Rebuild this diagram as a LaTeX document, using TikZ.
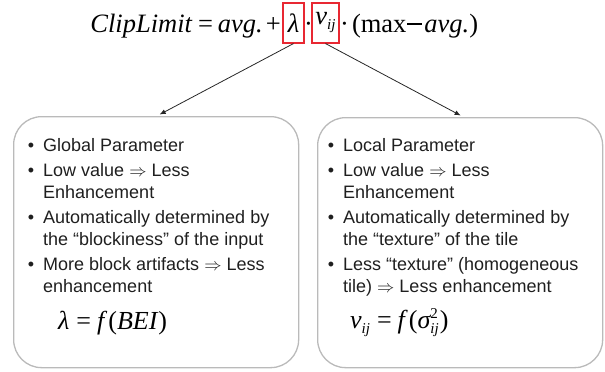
\documentclass[tikz,border=0pt]{standalone}
\usepackage{fontspec}
\setmainfont{Liberation Sans}
\newfontfamily\tms{Liberation Serif}
\usetikzlibrary{arrows.meta}
\newcommand{\bul}{\llap{\textbullet\hspace{9pt}}}
\newcommand{\sub}[1]{\raisebox{-5pt}{\fontsize{15}{15}\selectfont\itshape #1}}
\newcommand{\bigminus}{\raisebox{7.5pt}{\rule{15pt}{2pt}}}
\begin{document}
\begin{tikzpicture}[x=1pt,y=-1pt,
  pbox/.style={draw=black!27, line width=1.3pt, rounded corners=28pt, minimum width=285pt, inner sep=0pt, anchor=north west},
  redbox/.style={draw={rgb,255:red,232;green,40;blue,50}, line width=1.1pt, minimum height=40pt, inner sep=0pt, font=\tms\fontsize{26.5}{26.5}\selectfont},
  ftxt/.style={inner sep=0pt, font=\tms\fontsize{26.5}{26.5}\selectfont},
  btxt/.style={inner sep=0pt, anchor=north west, align=left, text=black!88, font=\fontsize{18}{22}\selectfont},
  conn/.style={draw=black!85, line width=0.8pt, -{Latex[length=6pt,width=5pt]}}
]
\useasboundingbox (0,0) rectangle (605,372);
% boxes
\node[pbox, minimum height=251pt] (lbox) at (13,116) {};
\node[pbox, minimum height=250pt] (rbox) at (317,117) {};
% top formula
\node[redbox, minimum width=21pt] (lam) at (293.5,23) {\itshape λ};
\node[redbox, minimum width=27pt] (vij) at (325.5,23) {\itshape v\sub{ij}};
\node[ftxt, anchor=base east] (f1) at (281,32) {{\itshape ClipLimit}\hspace{6pt}=\hspace{5pt}{\itshape avg.}\hspace{3pt}+};
\node[ftxt, anchor=base] (dot1) at (308.5,32) {·};
\node[ftxt, anchor=base west] (f2) at (340,32) {·\hspace{3pt}(max\hspace{1pt}\bigminus\hspace{2pt}{\itshape avg.})};
% arrows
\draw[conn] (lam.south) -- ([xshift=3.5pt,yshift=1.5pt]lbox.north);
\draw[conn] (vij.south) -- ([xshift=0.5pt,yshift=1.5pt]rbox.north);
% texts
\node[btxt] (ltxt) at (43,138.5) {%
\bul Global Parameter\\[2.8pt]
\bul Low value $\Rightarrow$ Less\\
Enhancement\\[2.8pt]
\bul Automatically determined by\\
the “blockiness” of the input\\[2.8pt]
\bul More block artifacts $\Rightarrow$ Less\\
enhancement};
\node[btxt] (rtxt) at (343,138.5) {%
\bul Local Parameter\\[2.8pt]
\bul Low value $\Rightarrow$ Less\\
Enhancement\\[2.8pt]
\bul Automatically determined by\\
the “texture” of the tile\\[2.8pt]
\bul Less “texture” (homogeneous\\
tile) $\Rightarrow$ Less enhancement};
% formulas in boxes
\node[ftxt, anchor=base west, font=\tms\fontsize{26}{26}\selectfont] (lf) at (58,329) {{\itshape λ}\hspace{7pt}=\hspace{6pt}{\itshape f}\hspace{4pt}({\itshape BEI}\hspace{1pt})};
\node[ftxt, anchor=base west, font=\tms\fontsize{26}{26}\selectfont] (rf) at (350,328) {{\itshape v}\sub{ij}\hspace{7pt}=\hspace{6pt}{\itshape f}\hspace{4pt}({\itshape σ}\rlap{\raisebox{10pt}{\fontsize{15}{15}\selectfont 2}}\sub{ij}\hspace{1pt})};
\end{tikzpicture}
\end{document}
